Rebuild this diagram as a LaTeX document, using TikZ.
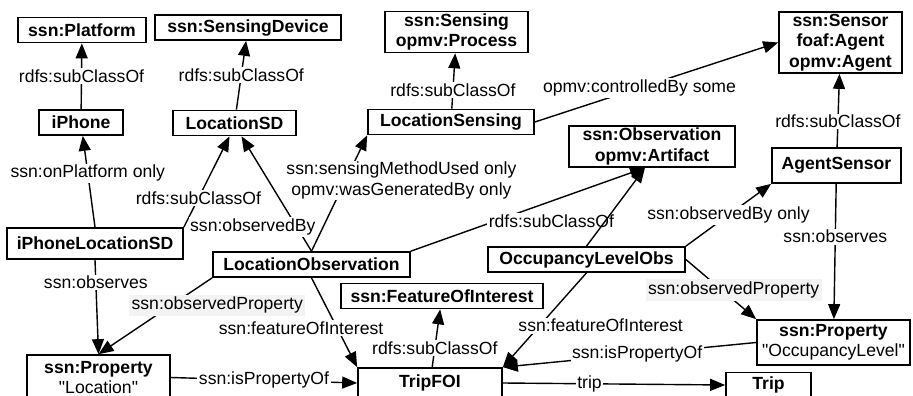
\documentclass[tikz,border=0pt]{standalone}
\usepackage{fontspec}
\setmainfont{Liberation Sans}
\usetikzlibrary{arrows.meta,positioning}
\definecolor{lblgray}{HTML}{F3F3F3}

\begin{document}
\begin{tikzpicture}[
  x=1pt,y=-1pt,
  every node/.style={font=\fontsize{17.6}{20.5}\selectfont},
  cls/.style={draw,line width=1.7pt,fill=white,align=center,inner xsep=9pt,inner ysep=2pt,minimum height=25pt,font=\fontsize{17.6}{20.5}\selectfont\bfseries},
  lbl/.style={fill=white,inner sep=1.5pt,align=center},
  plbl/.style={lbl,fill=lblgray,inner sep=2.5pt},
  rel/.style={-{Triangle[length=15pt,width=12pt]},line width=1.4pt}
]
\useasboundingbox (0,0) rectangle (913,396);
\clip (0,0) rectangle (913,396);
% classes
\node[cls,minimum width=128pt] (plat) at (82,30) {ssn:Platform};
\node[cls,minimum width=186pt] (sdev) at (248,27.5) {ssn:SensingDevice};
\node[cls,minimum width=143pt] (sensing) at (456.5,32) {ssn:Sensing\\opmv:Process};
\node[cls,minimum width=123pt] (sensor) at (840.5,42.5) {ssn:Sensor\\foaf:Agent\\opmv:Agent};
\node[cls,minimum width=84pt] (iphone) at (81,122.5) {iPhone};
\node[cls,minimum width=123pt] (locsd) at (234.5,123) {LocationSD};
\node[cls,minimum width=166pt] (locsens) at (451,122) {LocationSensing};
\node[cls,minimum width=166pt] (obs) at (652,146.5) {ssn:Observation\\opmv:Artifact};
\node[cls,minimum width=129pt,minimum height=35pt] (agent) at (836.5,165.5) {AgentSensor};
\node[cls,minimum width=176pt,minimum height=31pt] (iplsd) at (95,243.5) {iPhoneLocationSD};
\node[cls,minimum width=197pt] (locobs) at (311.5,264.5) {LocationObservation};
\node[cls,minimum width=197pt] (occobs) at (586.5,259.5) {OccupancyLevelObs};
\node[cls,minimum width=202pt] (foi) at (442,296) {ssn:FeatureOfInterest};
\node[cls,minimum width=143pt,minimum height=45pt] (propL) at (98.5,377.5) {ssn:Property\\\mdseries\textquotedbl Location\textquotedbl};
\node[cls,minimum width=153pt,minimum height=45pt,inner xsep=3pt] (propO) at (833.5,342.5) {ssn:Property\\\mdseries\textquotedbl OccupancyLevel\textquotedbl};
\node[cls,minimum width=144pt,minimum height=30pt] (tripfoi) at (430,383) {TripFOI};
\node[cls,minimum width=85pt] (trip) at (768.5,385) {Trip};
% subclass links
\foreach \a/\b/\p in {iphone/plat/0.5,locsd/sdev/0.5,locsens/sensing/0.34,agent/sensor/0.35,tripfoi/foi/0.33}
  \draw[rel] (\a) -- node[lbl,pos=\p] {rdfs:subClassOf} (\b);
\draw[rel] (iplsd.north east) -- node[lbl,pos=0.32] {rdfs:subClassOf} ([xshift=-5pt]locsd.south);
\draw[rel] (locobs.north east) -- node[lbl,pos=0.6,yshift=-20pt] {rdfs:subClassOf} ([xshift=-7pt]obs.south);
\draw[rel] (occobs.north) -- ([xshift=-7pt]obs.south);
% properties
\draw[rel] (iplsd.north) -- node[lbl,pos=0.59] {ssn:onPlatform only} (iphone);
\draw[rel] (locobs.north) -- node[lbl,pos=0.21,xshift=-44pt] {ssn:observedBy} ([xshift=7pt]locsd.south);
\draw[rel] (locobs.north) -- node[lbl,pos=0.61,xshift=56pt] {ssn:sensingMethodUsed only\\opmv:wasGeneratedBy only} (locsens.south west);
\draw[rel] (locsens.east) -- node[lbl,pos=0.43] {opmv:controlledBy some} (sensor.west);
\draw[rel] (occobs.north east) -- node[lbl] {ssn:observedBy only} (agent.south west);
\draw[rel] (agent) -- node[lbl,pos=0.39] {ssn:observes} (propO);
\draw[rel] (occobs.east) -- node[plbl,pos=0.68,yshift=10pt] {ssn:observedProperty} (propO.north west);
\draw[rel] (occobs.south) -- node[lbl,pos=0.56,xshift=61pt] {ssn:featureOfInterest} (tripfoi.north east);
\draw[rel] (locobs.south) -- node[lbl,pos=0.56,xshift=-36pt] {ssn:featureOfInterest} (tripfoi.north west);
\draw[rel] (locobs.south west) -- node[plbl,pos=0.36,xshift=46pt] {ssn:observedProperty} (propL.north);
\draw[rel] (iplsd.south) -- node[lbl,pos=0.24] {ssn:observes} (propL.north);
\draw[rel] (propL.east) -- node[lbl] {ssn:isPropertyOf} (tripfoi.west);
\draw[rel] (propO.west) -- node[lbl,pos=0.47] {ssn:isPropertyOf} (tripfoi.north east);
\draw[rel] (tripfoi.east) -- node[lbl,pos=0.39] {trip} (trip.west);
\end{tikzpicture}
\end{document}
